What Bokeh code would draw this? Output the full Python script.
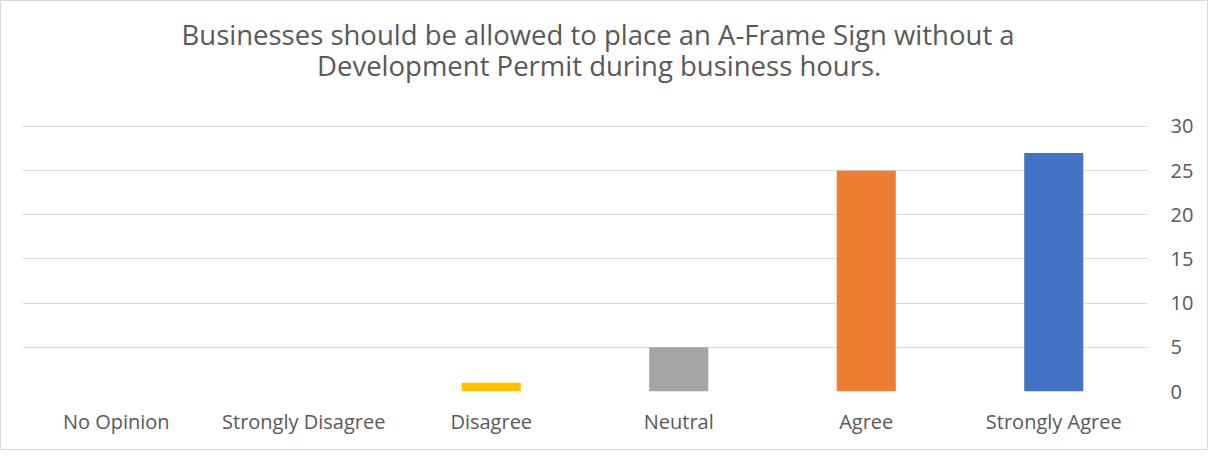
from bokeh.plotting import figure
from bokeh.models import ColumnDataSource, Title, FactorRange, Range1d, FixedTicker
from bokeh.embed import file_html
from bokeh.resources import INLINE

categories = ["No Opinion", "Strongly Disagree", "Disagree", "Neutral", "Agree", "Strongly Agree"]
counts = [0, 0, 1, 5, 25, 27]
bar_colors = ["#70AD47", "#5B9BD5", "#FFC000", "#A5A5A5", "#ED7D31", "#4472C4"]
y_ticks = [0, 5, 10, 15, 20, 25, 30]
title_lines = [
    "Businesses should be allowed to place an A-Frame Sign without a",
    "Development Permit during business hours.",
]

FONT = "Open Sans"
TEXT_COLOR = "#595959"
GRID_COLOR = "#D9D9D9"

src = ColumnDataSource(dict(cat=categories, count=counts, color=bar_colors))

p = figure(
    x_range=FactorRange(*categories),
    y_range=Range1d(0, 30.11),
    width=1208, height=450,
    output_backend="svg", toolbar_location=None,
    y_axis_location="right",
    min_border_left=21, min_border_right=62,
    min_border_top=124, min_border_bottom=60,
)
p.styles = {"border": "1px solid #D9D9D9"}
p.outline_line_color = None
p.background_fill_color = "white"
p.border_fill_color = "white"

p.vbar(x="cat", top="count", width=0.315, fill_color="color", line_color=None, source=src)

p.xgrid.grid_line_color = None
p.ygrid.grid_line_color = GRID_COLOR
p.ygrid.grid_line_width = 1

ya = p.yaxis[0]
ya.ticker = FixedTicker(ticks=y_ticks)
ya.axis_line_color = None
ya.major_tick_line_color = None
ya.minor_tick_line_color = None
ya.major_tick_out = 0
ya.major_tick_in = 0
ya.major_label_standoff = 23
ya.major_label_text_font = FONT
ya.major_label_text_font_size = "20px"
ya.major_label_text_color = TEXT_COLOR

xa = p.xaxis[0]
xa.axis_line_color = None
xa.major_tick_line_color = None
xa.minor_tick_line_color = None
xa.major_tick_out = 0
xa.major_tick_in = 0
xa.major_label_standoff = 16
xa.major_label_text_font = FONT
xa.major_label_text_font_size = "20px"
xa.major_label_text_color = TEXT_COLOR

# stacked upward from the plot: spacer, lower title line, upper title line
for txt, off, so in [(" ", 0, 10), (title_lines[1], 294.5, -15), (title_lines[0], 159, 0)]:
    p.add_layout(Title(
        text=txt, align="left", offset=off, standoff=so,
        text_font=FONT, text_font_size="27.5px", text_color=TEXT_COLOR,
        text_font_style="normal",
    ), "above")

open("out.html", "w").write(file_html(p, INLINE))
